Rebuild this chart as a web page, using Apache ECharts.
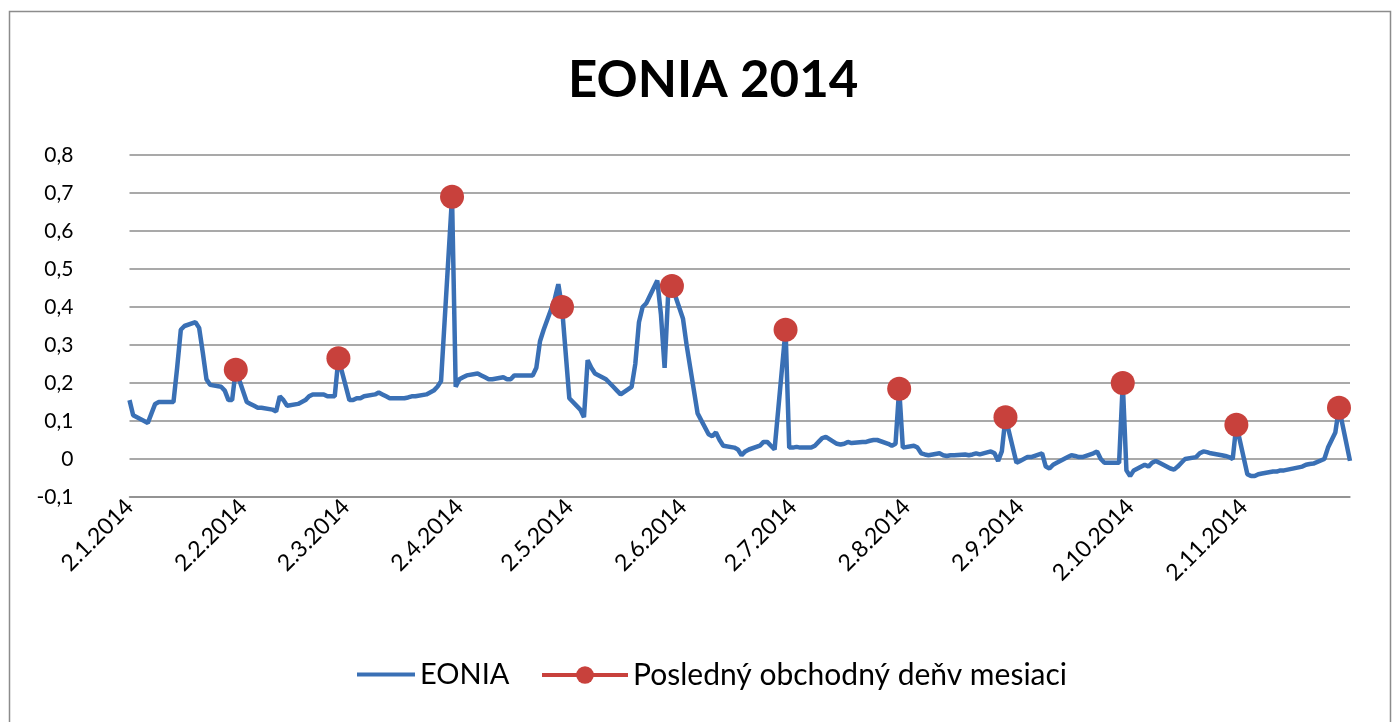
<!DOCTYPE html>
<html>
<head>
<meta charset="utf-8">
<script src="https://cdn.jsdelivr.net/npm/echarts@6/dist/echarts.min.js"></script>
<style>
html,body{margin:0;padding:0;background:#fff;}
#chart{width:1397px;height:722px;}
</style>
</head>
<body>
<div id="chart"></div>
<script>
// ---- data ----
const titleText = 'EONIA 2014';
const seriesNames = ['EONIA', 'Posledný obchodný deňv mesiaci'];

const dates = [
 '2014-01-02','2014-01-03','2014-01-06','2014-01-07','2014-01-08','2014-01-09','2014-01-10','2014-01-13','2014-01-14','2014-01-15','2014-01-16','2014-01-17','2014-01-20','2014-01-21','2014-01-22','2014-01-23','2014-01-24','2014-01-27','2014-01-28','2014-01-29','2014-01-30','2014-01-31',
 '2014-02-03','2014-02-04','2014-02-05','2014-02-06','2014-02-07','2014-02-10','2014-02-11','2014-02-12','2014-02-13','2014-02-14','2014-02-17','2014-02-18','2014-02-19','2014-02-20','2014-02-21','2014-02-24','2014-02-25','2014-02-26','2014-02-27','2014-02-28',
 '2014-03-03','2014-03-04','2014-03-05','2014-03-06','2014-03-07','2014-03-10','2014-03-11','2014-03-12','2014-03-13','2014-03-14','2014-03-17','2014-03-18','2014-03-19','2014-03-20','2014-03-21','2014-03-24','2014-03-25','2014-03-26','2014-03-27','2014-03-28','2014-03-31',
 '2014-04-01','2014-04-02','2014-04-03','2014-04-04','2014-04-07','2014-04-08','2014-04-09','2014-04-10','2014-04-11','2014-04-14','2014-04-15','2014-04-16','2014-04-17','2014-04-22','2014-04-23','2014-04-24','2014-04-25','2014-04-28','2014-04-29','2014-04-30',
 '2014-05-02','2014-05-05','2014-05-06','2014-05-07','2014-05-08','2014-05-09','2014-05-12','2014-05-13','2014-05-14','2014-05-15','2014-05-16','2014-05-19','2014-05-20','2014-05-21','2014-05-22','2014-05-23','2014-05-26','2014-05-27','2014-05-28','2014-05-29','2014-05-30',
 '2014-06-02','2014-06-03','2014-06-04','2014-06-05','2014-06-06','2014-06-09','2014-06-10','2014-06-11','2014-06-12','2014-06-13','2014-06-16','2014-06-17','2014-06-18','2014-06-19','2014-06-20','2014-06-23','2014-06-24','2014-06-25','2014-06-26','2014-06-27','2014-06-30',
 '2014-07-01','2014-07-02','2014-07-03','2014-07-04','2014-07-07','2014-07-08','2014-07-09','2014-07-10','2014-07-11','2014-07-14','2014-07-15','2014-07-16','2014-07-17','2014-07-18','2014-07-21','2014-07-22','2014-07-23','2014-07-24','2014-07-25','2014-07-28','2014-07-29','2014-07-30','2014-07-31',
 '2014-08-01','2014-08-04','2014-08-05','2014-08-06','2014-08-07','2014-08-08','2014-08-11','2014-08-12','2014-08-13','2014-08-14','2014-08-15','2014-08-18','2014-08-19','2014-08-20','2014-08-21','2014-08-22','2014-08-25','2014-08-26','2014-08-27','2014-08-28','2014-08-29',
 '2014-09-01','2014-09-02','2014-09-03','2014-09-04','2014-09-05','2014-09-08','2014-09-09','2014-09-10','2014-09-11','2014-09-12','2014-09-15','2014-09-16','2014-09-17','2014-09-18','2014-09-19','2014-09-22','2014-09-23','2014-09-24','2014-09-25','2014-09-26','2014-09-29','2014-09-30',
 '2014-10-01','2014-10-02','2014-10-03','2014-10-06','2014-10-07','2014-10-08','2014-10-09','2014-10-10','2014-10-13','2014-10-14','2014-10-15','2014-10-16','2014-10-17','2014-10-20','2014-10-21','2014-10-22','2014-10-23','2014-10-24','2014-10-27','2014-10-28','2014-10-29','2014-10-30','2014-10-31',
 '2014-11-03','2014-11-04','2014-11-05','2014-11-06','2014-11-07','2014-11-10','2014-11-11','2014-11-12','2014-11-13','2014-11-14','2014-11-17','2014-11-18','2014-11-19','2014-11-20','2014-11-21','2014-11-24','2014-11-25','2014-11-26','2014-11-27','2014-11-28',
 '2014-12-01'
];

const eonia = [
 0.155,0.115,0.10,0.095,0.12,0.145,0.15,0.15,0.15,0.24,0.34,0.35,0.36,0.345,0.28,0.21,0.195,0.19,0.18,0.155,0.155,0.235,
 0.15,0.145,0.14,0.135,0.135,0.13,0.125,0.165,0.155,0.14,0.145,0.15,0.155,0.165,0.17,0.17,0.165,0.165,0.165,0.265,
 0.155,0.155,0.16,0.16,0.165,0.17,0.175,0.17,0.165,0.16,0.16,0.16,0.162,0.165,0.165,0.17,0.175,0.18,0.19,0.205,0.69,
 0.19,0.21,0.215,0.22,0.225,0.22,0.215,0.21,0.21,0.215,0.21,0.21,0.22,0.22,0.24,0.31,0.34,0.42,0.46,0.40,
 0.16,0.13,0.11,0.26,0.24,0.225,0.21,0.20,0.19,0.18,0.17,0.19,0.25,0.36,0.40,0.41,0.47,0.38,0.24,0.44,0.455,
 0.37,0.30,0.24,0.18,0.12,0.065,0.06,0.07,0.05,0.035,0.03,0.025,0.01,0.02,0.025,0.035,0.045,0.045,0.035,0.025,0.34,
 0.03,0.03,0.032,0.03,0.03,0.035,0.045,0.055,0.058,0.04,0.038,0.04,0.045,0.042,0.045,0.045,0.048,0.05,0.05,0.04,0.035,0.04,0.185,
 0.03,0.035,0.03,0.015,0.012,0.01,0.015,0.01,0.008,0.01,0.01,0.012,0.01,0.012,0.015,0.012,0.02,0.015,-0.005,0.02,0.11,
 -0.01,-0.005,0.0,0.005,0.005,0.015,-0.02,-0.025,-0.015,-0.01,0.005,0.01,0.008,0.005,0.005,0.015,0.02,0.0,-0.01,-0.01,-0.01,0.20,
 -0.03,-0.045,-0.03,-0.015,-0.02,-0.01,-0.005,-0.01,-0.025,-0.028,-0.02,-0.01,0.0,0.005,0.015,0.02,0.018,0.015,0.01,0.008,0.005,0.0,0.09,
 -0.04,-0.045,-0.045,-0.04,-0.038,-0.033,-0.033,-0.03,-0.03,-0.028,-0.022,-0.02,-0.015,-0.013,-0.012,0.0,0.03,0.05,0.07,0.135,
 -0.005
];

const monthEndDates = ['2014-01-31','2014-02-28','2014-03-31','2014-04-30','2014-05-30','2014-06-30','2014-07-31','2014-08-29','2014-09-30','2014-10-31','2014-11-28'];
const monthEndValues = [0.235,0.265,0.69,0.40,0.455,0.34,0.185,0.11,0.20,0.09,0.135];

const xTickDates = ['2014-01-02','2014-02-02','2014-03-02','2014-04-02','2014-05-02','2014-06-02','2014-07-02','2014-08-02','2014-09-02','2014-10-02','2014-11-02'];
const xMin = '2014-01-02';
const xMax = '2014-12-01';
const yMin = -0.1, yMax = 0.8, yStep = 0.1;

// ---- helpers ----
function ts(s){ const p = s.split('-'); return new Date(+p[0], +p[1]-1, +p[2]).getTime(); }
const DAY = 86400000;

const eoniaData = dates.map((d, i) => [ts(d), eonia[i]]);
const monthEndData = [];
monthEndDates.forEach((d, i) => {
  monthEndData.push([ts(d), monthEndValues[i]]);
  monthEndData.push([ts(d) + DAY, null]); // gap so points are not joined
});

const FONT = 'Lato';
const BLUE = '#3A70B5';
const RED = '#C8413C';
const chart = echarts.init(document.getElementById('chart'), null, {renderer: 'canvas'});
chart.setOption({
  animation: false,
  backgroundColor: '#fff',
  textStyle: {fontFamily: FONT},
  graphic: [{
    type: 'rect', silent: true, z: -1,
    shape: {x: 9.5, y: 11.5, width: 1381, height: 720},
    style: {fill: 'none', stroke: '#8c8c8c', lineWidth: 1.5}
  }],
  title: {
    text: titleText, left: 563, top: 50,
    textStyle: {fontFamily: FONT, fontSize: 51, fontWeight: 'bold', color: '#000'}
  },
  legend: [{
    data: [{name: seriesNames[0], itemStyle: {opacity: 0}}], left: 355, top: 660, padding: 0,
    itemWidth: 58, itemHeight: 22, itemGap: 0,
    lineStyle: {width: 4, color: BLUE},
    textStyle: {fontFamily: FONT, fontSize: 29, color: '#000'}
  }, {
    data: [seriesNames[1]], left: 540, top: 660, padding: 0,
    itemWidth: 86, itemHeight: 22, itemGap: 0,
    lineStyle: {width: 4, color: RED},
    textStyle: {fontFamily: FONT, fontSize: 30, color: '#000'}
  }],
  grid: {left: 129.5, right: 47, top: 155, bottom: 225, containLabel: false},
  xAxis: {
    type: 'value', min: ts(xMin), max: ts(xMax),
    axisLine: {show: true, onZero: false, lineStyle: {color: '#8c8c8c', width: 1.5}},
    axisTick: {show: false},
    splitLine: {show: false},
    axisLabel: {
      customValues: xTickDates.map(ts),
      rotate: 45, margin: 6, color: '#000', fontSize: 23, fontFamily: FONT,
      formatter: function (v) { const d = new Date(v); return d.getDate() + '.' + (d.getMonth() + 1) + '.' + d.getFullYear(); }
    }
  },
  yAxis: {
    type: 'value', min: yMin, max: yMax, interval: yStep,
    axisLine: {show: false}, axisTick: {show: false},
    splitLine: {show: true, lineStyle: {color: '#8c8c8c', width: 1.5}},
    axisLabel: {
      margin: 56, color: '#000', fontSize: 21, fontFamily: FONT,
      formatter: function (v) { const r = Math.round(v * 10) / 10; return r === 0 ? '0' : r.toFixed(1).replace('.', ','); }
    }
  },
  series: [{
    name: seriesNames[0], type: 'line', data: eoniaData,
    symbol: 'none', lineStyle: {color: BLUE, width: 4.5}, itemStyle: {color: BLUE},
    z: 2
  }, {
    name: seriesNames[1], type: 'line', data: monthEndData, connectNulls: false,
    symbol: 'circle', symbolSize: 24, showAllSymbol: true,
    lineStyle: {color: RED, width: 4}, itemStyle: {color: RED},
    z: 3
  }]
});
</script>
</body>
</html>
